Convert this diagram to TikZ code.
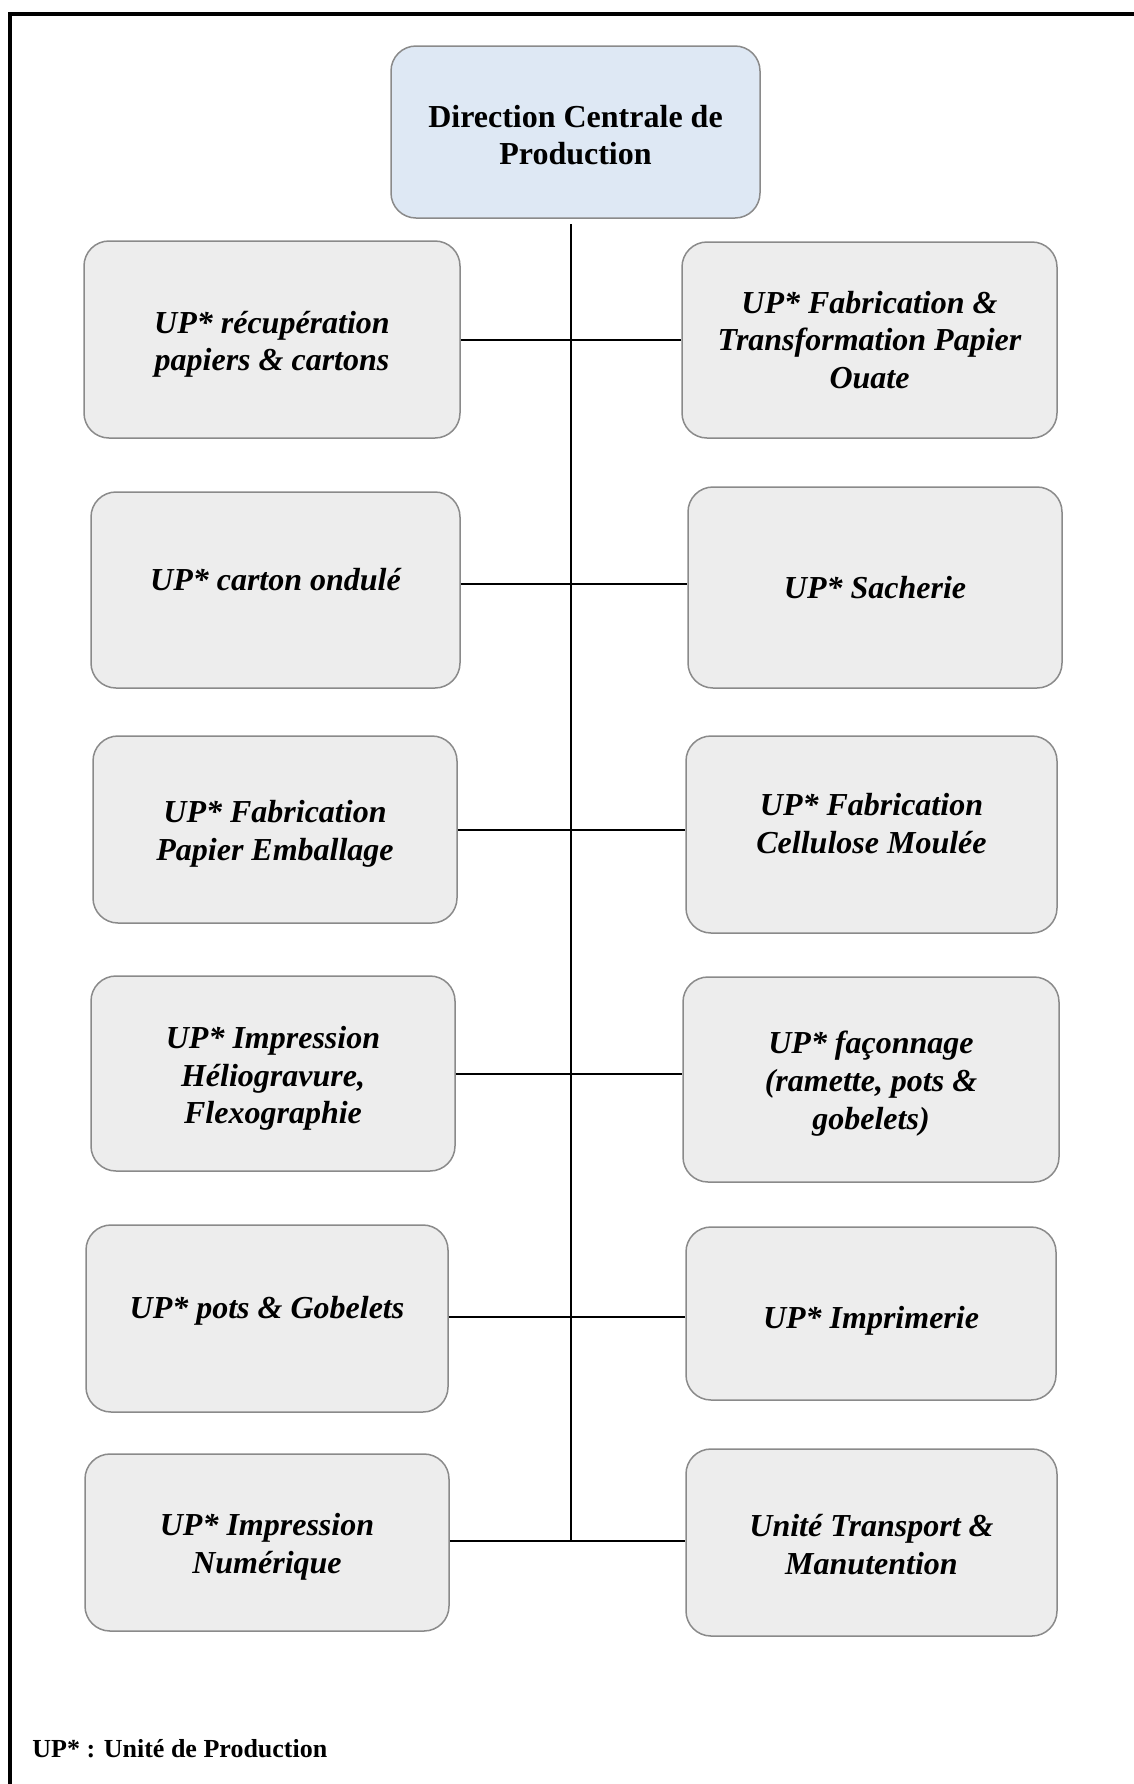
\documentclass[tikz,border=0pt]{standalone}
\usepackage{fontspec}
\setmainfont{Liberation Serif}
\usetikzlibrary{calc}
\definecolor{boxgray}{HTML}{EDEDED}
\definecolor{boxline}{HTML}{8A8A8A}
\definecolor{headblue}{HTML}{DEE8F4}
\tikzset{
	unitbox/.style={draw=boxline, line width=0.75pt, fill=boxgray, rounded corners=12.5pt, inner sep=0pt},
	headbox/.style={unitbox, fill=headblue},
	sz/.style 2 args={minimum width=#1*0.5pt, minimum height=#2*0.5pt},
	unittext/.style={align=center, inner sep=0pt, font=\fontsize{16}{18.8}\selectfont\bfseries\itshape},
	headtext/.style={unittext, font=\fontsize{16}{18.4}\selectfont\bfseries},
	link/.style={line width=1pt, black}
}

\begin{document}
\begin{tikzpicture}[x=0.5pt,y=-0.5pt]
				%%%%% FRAME %%%%%
				\def\xspine{571}
				\def\ytopspine{224}
				\useasboundingbox (0,0) rectangle (1134,1784);
				\draw[line width=2pt] (10,1784) -- (10,14) -- (1134,14);

				\node[headbox, sz={369}{172}] (dcp) at (575.5,132) {};
				\node[headtext] (dcpt) at ([yshift=-1.4pt]dcp.center) {Direction Centrale de\\Production};

				% left column
				\node[unitbox, sz={376}{197}] (lft1) at (272,339.5) {};
				\node[unitbox, sz={369}{196}] (lft2) at (275.5,590) {};
				\node[unitbox, sz={364}{187}] (lft3) at (275,829.5) {};
				\node[unitbox, sz={364}{195}] (lft4) at (273,1073.5) {};
				\node[unitbox, sz={362}{187}] (lft5) at (267,1318.5) {};
				\node[unitbox, sz={364}{177}] (lft6) at (267,1542.5) {};

				\node[unittext] (lft1t) at ([yshift=-2.3pt]lft1.center) {UP* récupération\\papiers \& cartons};
				\node[unittext] (lft2t) at ([yshift=5.1pt]lft2.center) {UP* carton ondulé};
				\node[unittext] (lft3t) at ([yshift=-2pt]lft3.center) {UP* Fabrication\\Papier Emballage};
				\node[unittext] (lft4t) at ([yshift=-2.5pt]lft4.center) {UP* Impression\\Héliogravure,\\Flexographie};
				\node[unittext] (lft5t) at ([yshift=4pt]lft5.center) {UP* pots \& Gobelets};
				\node[unittext] (lft6t) at ([yshift=-2pt]lft6.center) {UP* Impression\\Numérique};

				% right column
				\node[unitbox, sz={375}{196}] (rgt1) at (869.5,340) {};
				\node[unitbox, sz={374}{201}] (rgt2) at (875,587.5) {};
				\node[unitbox, sz={371}{197}] (rgt3) at (871.5,834.5) {};
				\node[unitbox, sz={376}{205}] (rgt4) at (871,1079.5) {};
				\node[unitbox, sz={370}{173}] (rgt5) at (871,1313.5) {};
				\node[unitbox, sz={371}{187}] (rgt6) at (871.5,1542.5) {};

				\node[unittext] (rgt1t) at (rgt1.center) {UP* Fabrication \&\\Transformation Papier\\Ouate};
				\node[unittext] (rgt2t) at (rgt2.center) {UP* Sacherie};
				\node[unittext] (rgt3t) at ([yshift=5.4pt]rgt3.center) {UP* Fabrication\\Cellulose Moulée};
				\node[unittext] (rgt4t) at ([yshift=-2.1pt]rgt4.center) {UP* façonnage\\(ramette, pots \&\\gobelets)};
				\node[unittext] (rgt5t) at ([yshift=-3.4pt]rgt5.center) {UP* Imprimerie};
				\node[unittext] (rgt6t) at ([yshift=-1.1pt]rgt6.center) {Unité Transport \&\\Manutention};

				% spine and branches
				\coordinate (spinetop) at (\xspine,\ytopspine);
				\coordinate (spinebot) at ([yshift=0.7pt]spinetop |- lft6.east);
				\draw[link] (spinetop) -- (spinebot);
				\foreach \i/\dy in {1/0,2/3,3/0,4/0,5/0.7,6/0.7}
					\draw[link] ([yshift=\dy pt]lft\i.east) -- ([yshift=\dy pt]lft\i.east -| rgt\i.west);

				\node[anchor=base west, inner sep=0pt, font=\fontsize{13}{15}\selectfont\bfseries] (legend) at (32,1757) {UP* : Unité de Production};
\end{tikzpicture}
\end{document}
